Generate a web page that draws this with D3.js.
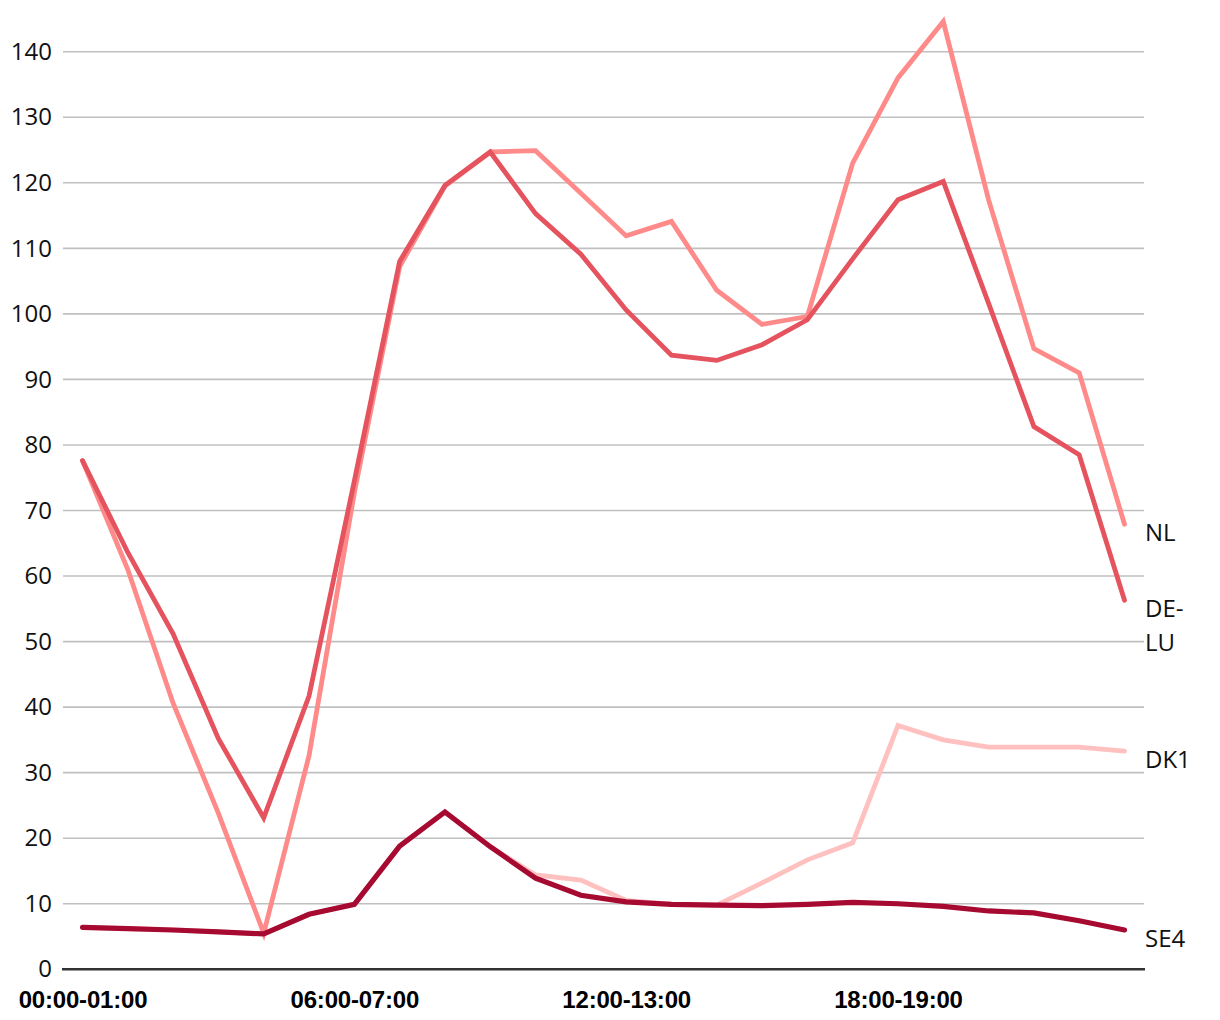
<!DOCTYPE html>
<html>
<head>
<meta charset="utf-8">
<script src="https://cdn.jsdelivr.net/npm/d3@7"></script>
<style>
  body { margin: 0; background: #fff; }
  svg { display: block; }
</style>
</head>
<body>
<svg id="chart"></svg>
<script>
// hourly categories
var hours = d3.range(24).map(function(h) {
  var pad = function(n) { return (n < 10 ? "0" : "") + n; };
  return pad(h) + ":00-" + pad(h + 1) + ":00";
});
var shownHours = ["00:00-01:00", "06:00-07:00", "12:00-13:00", "18:00-19:00"];
var yTicks = [0, 10, 20, 30, 40, 50, 60, 70, 80, 90, 100, 110, 120, 130, 140];

// series values
var nl   = [77.6, 61.0, 40.6, 23.8, 5.5, 32.6, 72.7, 107.2, 119.5, 124.7, 124.9, 118.4, 111.9, 114.1, 103.6, 98.4, 99.6, 123.0, 136.0, 144.6, 117.4, 94.7, 91.0, 67.9];
var delu = [77.6, 63.6, 51.2, 35.2, 23.1, 41.7, 74.5, 108.0, 119.6, 124.7, 115.3, 109.1, 100.6, 93.7, 92.9, 95.3, 99.1, 108.4, 117.4, 120.2, 101.6, 82.8, 78.5, 56.3];
var dk1  = [6.4, 6.2, 6.0, 5.7, 5.4, 8.4, 9.9, 18.8, 24.0, 18.7, 14.4, 13.6, 10.5, 9.9, 9.8, 13.2, 16.7, 19.3, 37.2, 35.0, 33.9, 33.9, 33.9, 33.3];
var se4  = [6.4, 6.2, 6.0, 5.7, 5.4, 8.4, 9.9, 18.8, 24.0, 18.7, 13.9, 11.3, 10.3, 9.9, 9.8, 9.7, 9.9, 10.2, 10.0, 9.6, 8.9, 8.6, 7.4, 6.0];

var seriesNames  = ["DK1", "NL", "DE-LU", "SE4"];
var seriesValues = [dk1, nl, delu, se4];
var seriesColors = ["#ffc0c0", "#ff8a8a", "#e5535e", "#a60a30"];

var svgWidth = 1220, svgHeight = 1020;
var plotLeft = 62, plotRight = 1144;

var svg = d3.select("#chart")
  .attr("width", svgWidth)
  .attr("height", svgHeight);

var x = d3.scalePoint().domain(hours).range([82.5, 1124.5]);
var y = d3.scaleLinear().domain([0, 140]).range([969.3, 51.7]);

// gridlines
svg.append("g")
  .selectAll("line")
  .data(yTicks.filter(function(d) { return d > 0; }))
  .join("line")
  .attr("x1", plotLeft + 1)
  .attr("x2", plotRight)
  .attr("y1", function(d) { return y(d); })
  .attr("y2", function(d) { return y(d); })
  .attr("stroke", "#c0c0c0")
  .attr("stroke-width", 1.6);

// y axis labels
var yAxis = svg.append("g")
  .attr("transform", "translate(" + plotLeft + ",0)")
  .call(d3.axisLeft(y).tickValues(yTicks).tickSize(0).tickPadding(10));
yAxis.select(".domain").remove();
yAxis.selectAll("text")
  .attr("font-family", "'Open Sans', 'Noto Sans', sans-serif")
  .attr("font-size", "24px")
  .attr("fill", "#111");

// baseline
svg.append("line")
  .attr("x1", plotLeft)
  .attr("x2", plotRight + 1)
  .attr("y1", y(0))
  .attr("y2", y(0))
  .attr("stroke", "#333")
  .attr("stroke-width", 2.5);

// x axis labels
var xAxis = svg.append("g")
  .attr("transform", "translate(0," + y(0) + ")")
  .call(d3.axisBottom(x).tickValues(shownHours).tickSize(0).tickPadding(0));
xAxis.select(".domain").remove();
xAxis.selectAll("text")
  .attr("y", 39)
  .attr("dy", 0)
  .attr("font-family", "'Liberation Sans', Arial, sans-serif")
  .attr("font-weight", "bold")
  .attr("font-size", "24px")
  .attr("letter-spacing", "-0.2px")
  .attr("fill", "#000");

// lines
var line = d3.line()
  .x(function(d, i) { return x(hours[i]); })
  .y(function(d) { return y(d); });

svg.append("g")
  .selectAll("path")
  .data(seriesValues)
  .join("path")
  .attr("d", line)
  .attr("fill", "none")
  .attr("stroke", function(d, i) { return seriesColors[i]; })
  .attr("stroke-width", function(d, i) { return seriesNames[i] === "SE4" ? 5.2 : 4.8; })
  .attr("stroke-linecap", "round");

// end labels
var labels = svg.append("g")
  .selectAll("text")
  .data(seriesNames)
  .join("text")
  .attr("x", plotRight + 1)
  .attr("y", function(d, i) { return y(seriesValues[i][23]) + 17; })
  .attr("font-family", "'Open Sans', 'Noto Sans', sans-serif")
  .attr("font-size", "24px")
  .attr("fill", "#111");

labels.each(function(d) {
  var t = d3.select(this);
  var parts = d === "DE-LU" ? ["DE-", "LU"] : [d];
  parts.forEach(function(p, k) {
    t.append("tspan")
      .attr("x", plotRight + 1)
      .attr("dy", k === 0 ? 0 : 34)
      .text(p);
  });
});
</script>
</body>
</html>
